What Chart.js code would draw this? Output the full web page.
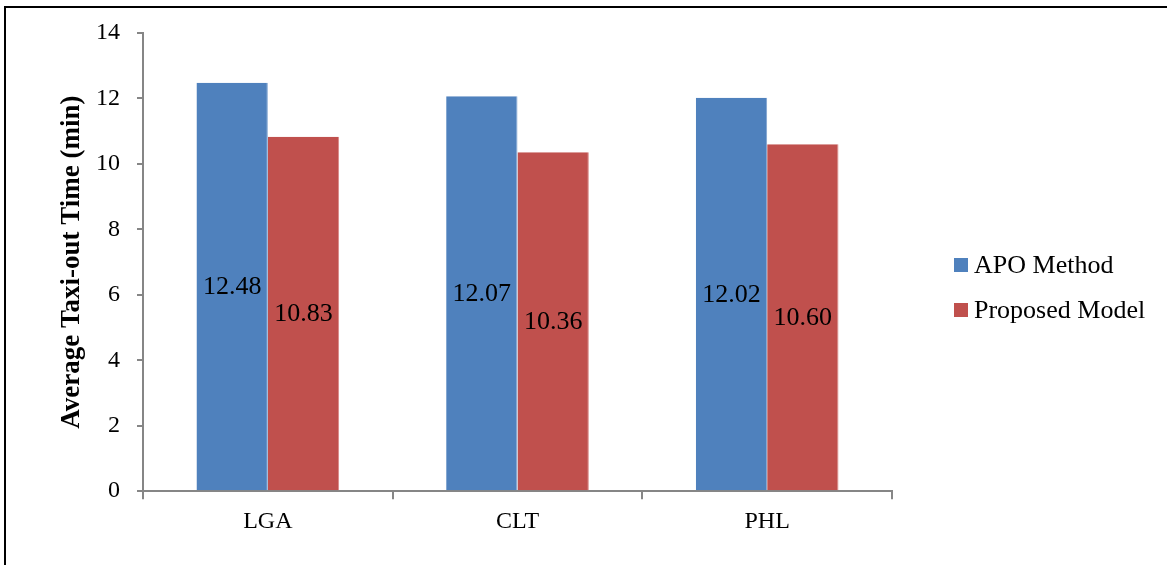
<!DOCTYPE html>
<html>
<head>
<meta charset="utf-8">
<script src="https://cdn.jsdelivr.net/npm/chart.js@4.4.1/dist/chart.umd.min.js"></script>
<style>
  html, body { margin: 0; padding: 0; background: #fff; }
  #wrap { position: relative; width: 1167px; height: 565px; overflow: hidden; }
  #frame { position: absolute; left: 4px; top: 6px; width: 1200px; height: 600px; border: 2px solid #000; box-sizing: border-box; }
  canvas { position: absolute; left: 0; top: 0; }
</style>
</head>
<body>
<div id="wrap">
  <div id="frame"></div>
  <canvas id="chart" width="1167" height="565"></canvas>
</div>
<script>
const airports = ["LGA", "CLT", "PHL"];
const apoMethod = [12.48, 12.07, 12.02];
const proposedModel = [10.83, 10.36, 10.60];
const yTicks = [0, 2, 4, 6, 8, 10, 12, 14];

const serif = "'Liberation Serif', 'Times New Roman', serif";
const axisGray = "#868686";

// write each value in the middle of its bar
const barLabels = {
  id: "barLabels",
  afterDatasetsDraw(chart) {
    const c = chart.ctx;
    c.save();
    c.font = "26px " + serif;
    c.fillStyle = "#000";
    c.textAlign = "center";
    c.textBaseline = "middle";
    chart.data.datasets.forEach((ds, i) => {
      chart.getDatasetMeta(i).data.forEach((bar, j) => {
        c.fillText(ds.data[j].toFixed(2), bar.x, (bar.y + bar.base) / 2 + 1);
      });
    });
    c.restore();
  },
};

// excel-like legend: small square, text close to it
const sideLegend = {
  id: "sideLegend",
  afterDraw(chart) {
    const c = chart.ctx;
    const x = chart.chartArea.right + 62;
    c.save();
    c.font = "26px " + serif;
    c.textBaseline = "middle";
    chart.data.datasets.forEach((ds, i) => {
      const y = 265 + i * 45;
      c.fillStyle = ds.backgroundColor;
      c.fillRect(x, y - 7, 14, 14);
      c.fillStyle = "#000";
      c.fillText(ds.label, x + 20, y + 1);
    });
    c.restore();
  },
};

const ctx = document.getElementById("chart");
new Chart(ctx, {
  type: "bar",
  data: {
    labels: airports,
    datasets: [
      {
        label: "APO Method",
        data: apoMethod,
        backgroundColor: "#4F81BD",
        borderColor: "#7FA3D0",
        borderWidth: { right: 1 },
        borderSkipped: false,
      },
      {
        label: "Proposed Model",
        data: proposedModel,
        backgroundColor: "#C0504D",
        borderColor: "#D98886",
        borderWidth: { right: 1 },
        borderSkipped: false,
      },
    ],
  },
  options: {
    responsive: false,
    animation: false,
    devicePixelRatio: 1,
    layout: { padding: { left: 56, right: 275, top: 33, bottom: 21 } },
    datasets: { bar: { categoryPercentage: 2 / 3.5, barPercentage: 1 } },
    plugins: {
      tooltip: { enabled: false },
      legend: { display: false },
    },
    scales: {
      x: {
        grid: {
          display: true,
          offset: true,
          drawOnChartArea: false,
          color: axisGray,
          tickLength: 8,
          lineWidth: 2,
        },
        border: { color: axisGray, width: 2 },
        ticks: { color: "#000", font: { family: serif, size: 24 }, padding: 8 },
      },
      y: {
        min: 0,
        max: 14,
        afterBuildTicks: (axis) => { axis.ticks = yTicks.map((v) => ({ value: v })); },
        afterFit: (axis) => { axis.width = 87; },
        grid: {
          display: true,
          drawOnChartArea: false,
          color: axisGray,
          tickLength: 6,
          lineWidth: 2,
        },
        border: { color: axisGray, width: 2 },
        ticks: { color: "#000", font: { family: serif, size: 24 }, padding: 17 },
        title: {
          display: true,
          text: "Average Taxi-out Time (min)",
          color: "#000",
          font: { family: serif, size: 27, weight: "bold" },
          padding: { top: 0, bottom: 8 },
        },
      },
    },
  },
  plugins: [barLabels, sideLegend],
});
</script>
</body>
</html>
